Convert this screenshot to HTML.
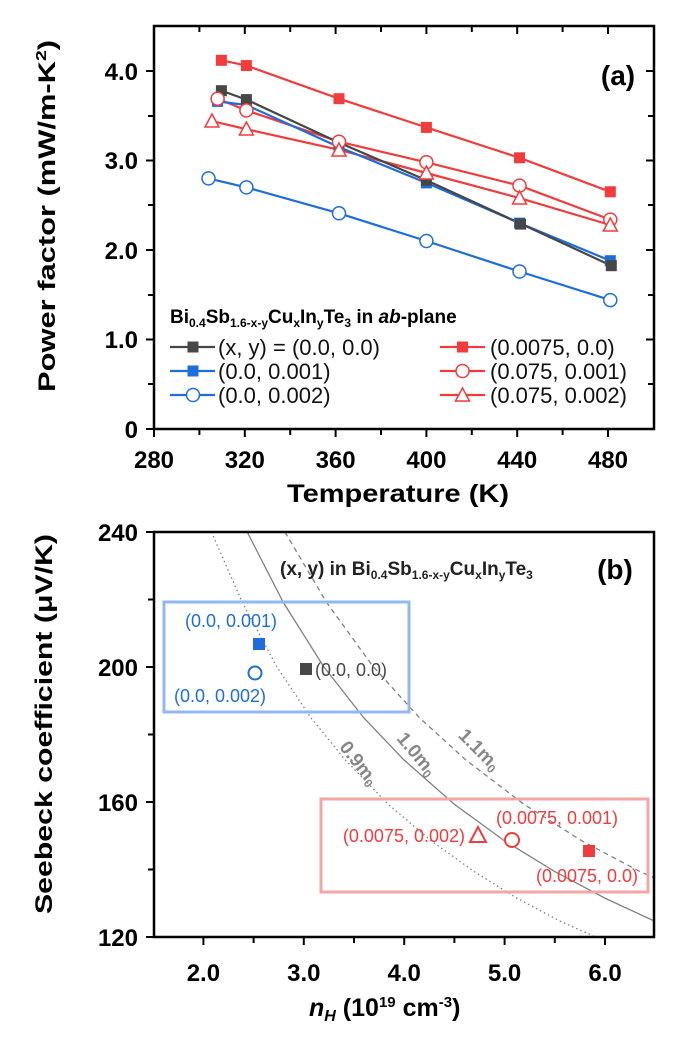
<!DOCTYPE html>
<html><head><meta charset="utf-8"><style>
body{margin:0;background:#fff}
svg{display:block;font-family:"Liberation Sans",sans-serif}
.tk{font-weight:bold;font-size:24px}
</style></head><body>
<svg width="686" height="1046" viewBox="0 0 686 1046" xmlns="http://www.w3.org/2000/svg">
<!-- ===== Panel (a) ===== -->
<g stroke="#000" stroke-width="2.5" fill="none">
<rect x="154" y="26" width="500" height="403"/>
</g>
<g stroke="#000" stroke-width="2">
<line x1="146" y1="429" x2="154" y2="429"/><line x1="146" y1="339.5" x2="154" y2="339.5"/><line x1="146" y1="250" x2="154" y2="250"/><line x1="146" y1="160.5" x2="154" y2="160.5"/><line x1="146" y1="71" x2="154" y2="71"/>
<line x1="148" y1="384" x2="154" y2="384"/><line x1="148" y1="295" x2="154" y2="295"/><line x1="148" y1="205" x2="154" y2="205"/><line x1="148" y1="116" x2="154" y2="116"/>
<line x1="646" y1="339.5" x2="654" y2="339.5"/><line x1="646" y1="250" x2="654" y2="250"/><line x1="646" y1="160.5" x2="654" y2="160.5"/><line x1="646" y1="71" x2="654" y2="71"/>
<line x1="648" y1="384" x2="654" y2="384"/><line x1="648" y1="295" x2="654" y2="295"/><line x1="648" y1="205" x2="654" y2="205"/><line x1="648" y1="116" x2="654" y2="116"/>
<line x1="154" y1="429" x2="154" y2="437"/><line x1="244.8" y1="429" x2="244.8" y2="437"/><line x1="335.6" y1="429" x2="335.6" y2="437"/><line x1="426.4" y1="429" x2="426.4" y2="437"/><line x1="517.2" y1="429" x2="517.2" y2="437"/><line x1="608" y1="429" x2="608" y2="437"/>
<line x1="199.4" y1="429" x2="199.4" y2="435"/><line x1="290.2" y1="429" x2="290.2" y2="435"/><line x1="381" y1="429" x2="381" y2="435"/><line x1="471.8" y1="429" x2="471.8" y2="435"/><line x1="562.6" y1="429" x2="562.6" y2="435"/>
<line x1="199.4" y1="26" x2="199.4" y2="32"/><line x1="244.8" y1="26" x2="244.8" y2="34"/><line x1="290.2" y1="26" x2="290.2" y2="32"/><line x1="335.6" y1="26" x2="335.6" y2="34"/><line x1="381" y1="26" x2="381" y2="32"/><line x1="426.4" y1="26" x2="426.4" y2="34"/><line x1="471.8" y1="26" x2="471.8" y2="32"/><line x1="517.2" y1="26" x2="517.2" y2="34"/><line x1="562.6" y1="26" x2="562.6" y2="32"/><line x1="608" y1="26" x2="608" y2="34"/>
</g>
<g class="tk" text-anchor="end">
<text x="138" y="438">0</text><text x="138" y="348">1.0</text><text x="138" y="259">2.0</text><text x="138" y="169">3.0</text><text x="138" y="80">4.0</text>
</g>
<g class="tk" text-anchor="middle">
<text x="154" y="468">280</text><text x="244.8" y="468">320</text><text x="335.6" y="468">360</text><text x="426.4" y="468">400</text><text x="517.2" y="468">440</text><text x="608" y="468">480</text>
</g>
<text x="398" y="502" text-anchor="middle" font-weight="bold" font-size="25" textLength="222" lengthAdjust="spacingAndGlyphs">Temperature (K)</text>
<text transform="translate(55,216) rotate(-90)" text-anchor="middle" font-weight="bold" font-size="24" textLength="352" lengthAdjust="spacingAndGlyphs">Power factor  (mW/m-K<tspan dy="-9" font-size="15">2</tspan><tspan dy="9">)</tspan></text>
<text x="618" y="85" text-anchor="middle" font-weight="bold" font-size="28">(a)</text>

<g fill="none" stroke-width="2.2">
<polyline stroke="#1d6ddc" points="208.5,178.4 246.4,187.4 339,213.3 426.4,241 519.5,271.5 610.3,300.1"/>
<polyline stroke="#f03c3c" points="212,121.1 246.4,129.2 339,149.8 426.4,173 519.5,198.1 610.3,225"/>
<polyline stroke="#f03c3c" points="217.6,98.7 246.4,110.4 339,141.7 426.4,162.3 519.5,185.6 610.3,219.6"/>
<polyline stroke="#1d6ddc" points="217.6,101.4 246.4,105 339,147.1 426.4,182.9 519.5,223.1 610.3,260.7"/>
<polyline stroke="#474747" points="221.4,90.7 246.4,99.6 339,142.6 426.4,180.2 519.5,223.1 610.3,265.2"/>
<polyline stroke="#f03c3c" points="221.4,60.3 246.4,65.6 339,98.7 426.4,127.4 519.5,157.8 610.3,191.8"/>
</g>
<g fill="#fff" stroke="#1d6ddc" stroke-width="1.5">
<circle cx="208.5" cy="178.4" r="6.5"/><circle cx="246.4" cy="187.4" r="6.5"/><circle cx="339" cy="213.3" r="6.5"/><circle cx="426.4" cy="241" r="6.5"/><circle cx="519.5" cy="271.5" r="6.5"/><circle cx="610.3" cy="300.1" r="6.5"/>
</g>
<g fill="#1d6ddc">
<rect x="212.1" y="95.9" width="11" height="11"/><rect x="240.9" y="99.5" width="11" height="11"/><rect x="333.5" y="141.6" width="11" height="11"/><rect x="420.9" y="177.4" width="11" height="11"/><rect x="514" y="217.6" width="11" height="11"/><rect x="604.8" y="255.2" width="11" height="11"/>
</g>
<g fill="#474747">
<rect x="215.9" y="85.2" width="11" height="11"/><rect x="240.9" y="94.1" width="11" height="11"/><rect x="333.5" y="137.1" width="11" height="11"/><rect x="420.9" y="174.7" width="11" height="11"/><rect x="515" y="218.6" width="11" height="11"/><rect x="605.8" y="260.2" width="11" height="11"/>
</g>
<g fill="#fff" stroke="#f03c3c" stroke-width="1.5">
<circle cx="217.6" cy="98.7" r="6.5"/><circle cx="246.4" cy="110.4" r="6.5"/><circle cx="339" cy="141.7" r="6.5"/><circle cx="426.4" cy="162.3" r="6.5"/><circle cx="519.5" cy="185.6" r="6.5"/><circle cx="610.3" cy="219.6" r="6.5"/>
<polygon points="212,114 219,127 205,127"/><polygon points="246.4,122 253.4,135 239.4,135"/><polygon points="339,143 346,156 332,156"/><polygon points="426.4,166 433.4,179 419.4,179"/><polygon points="519.5,191 526.5,204 512.5,204"/><polygon points="610.3,218 617.3,231 603.3,231"/>
</g>
<g fill="#f03c3c">
<rect x="215.9" y="54.8" width="11" height="11"/><rect x="240.9" y="60.1" width="11" height="11"/><rect x="333.5" y="93.2" width="11" height="11"/><rect x="420.9" y="121.9" width="11" height="11"/><rect x="514" y="152.3" width="11" height="11"/><rect x="604.8" y="186.3" width="11" height="11"/>
</g>
<text x="170" y="323" font-weight="bold" font-size="19">Bi<tspan font-size="12" dy="4">0.4</tspan><tspan dy="-4">Sb</tspan><tspan font-size="12" dy="4">1.6-x-y</tspan><tspan dy="-4">Cu</tspan><tspan font-size="12" dy="4">x</tspan><tspan dy="-4">In</tspan><tspan font-size="12" dy="4">y</tspan><tspan dy="-4">Te</tspan><tspan font-size="12" dy="4">3</tspan><tspan dy="-4"> in </tspan><tspan font-style="italic">ab</tspan>-plane</text>
<g stroke-width="2.2">
<line x1="170" y1="347" x2="215" y2="347" stroke="#474747"/><rect x="187.5" y="341.5" width="11" height="11" fill="#474747"/>
<line x1="170" y1="371" x2="215" y2="371" stroke="#1d6ddc"/><rect x="187.5" y="365.5" width="11" height="11" fill="#1d6ddc"/>
<line x1="170" y1="395" x2="215" y2="395" stroke="#1d6ddc"/><circle cx="193" cy="395" r="6.5" fill="#fff" stroke="#1d6ddc" stroke-width="1.5"/>
<line x1="440" y1="347" x2="485" y2="347" stroke="#f03c3c"/><rect x="457" y="341.5" width="11" height="11" fill="#f03c3c"/>
<line x1="440" y1="371" x2="485" y2="371" stroke="#f03c3c"/><circle cx="462.5" cy="371" r="6.5" fill="#fff" stroke="#f03c3c" stroke-width="1.5"/>
<line x1="440" y1="395" x2="485" y2="395" stroke="#f03c3c"/><polygon points="462.5,388 469.5,401 455.5,401" fill="#fff" stroke="#f03c3c" stroke-width="1.5"/>
</g>
<g font-size="22" fill="#111">
<text x="218" y="355">(x, y) = (0.0, 0.0)</text>
<text x="218" y="379">(0.0, 0.001)</text>
<text x="218" y="403">(0.0, 0.002)</text>
<text x="490" y="355">(0.0075, 0.0)</text>
<text x="490" y="379">(0.075, 0.001)</text>
<text x="490" y="403">(0.075, 0.002)</text>
</g>

<!-- ===== Panel (b) ===== -->
<g fill="none" stroke="#808080" stroke-width="1.3">
<polyline points="247.2,532 283.3,602.4 323.5,666.4 363.6,717.6 403.8,759.8 454,804 504.2,840.6 554.4,871.3 604.6,898 654,920.9"/>
<polyline stroke-dasharray="1.5,3" points="211.4,532 242.3,602.4 276.6,666.4 310.8,717.6 345.2,759.8 388,804 430.9,840.6 473.8,871.3 516.6,898 559.5,920.9 595.6,937"/>
<polyline stroke-dasharray="5,4" points="284.9,532 326.6,602.4 373,666.4 419.3,717.6 465.6,759.8 523.6,804 581.5,840.6 639.4,871.3 654,877.6"/>
</g>
<rect x="164" y="602" width="245" height="110" fill="none" stroke="#93b8ef" stroke-width="3"/>
<rect x="321" y="799" width="327" height="93" fill="none" stroke="#f5a5a5" stroke-width="3"/>
<g stroke="#000" stroke-width="2.5" fill="none"><rect x="154" y="532" width="500" height="405"/></g>
<g stroke="#000" stroke-width="2">
<line x1="146" y1="937" x2="154" y2="937"/><line x1="146" y1="802" x2="154" y2="802"/><line x1="146" y1="667" x2="154" y2="667"/><line x1="146" y1="532" x2="154" y2="532"/>
<line x1="148" y1="869.5" x2="154" y2="869.5"/><line x1="148" y1="734.5" x2="154" y2="734.5"/><line x1="148" y1="599.5" x2="154" y2="599.5"/>
<line x1="203.4" y1="937" x2="203.4" y2="945"/><line x1="303.8" y1="937" x2="303.8" y2="945"/><line x1="404.2" y1="937" x2="404.2" y2="945"/><line x1="504.6" y1="937" x2="504.6" y2="945"/><line x1="605" y1="937" x2="605" y2="945"/>
<line x1="253.6" y1="937" x2="253.6" y2="943"/><line x1="354" y1="937" x2="354" y2="943"/><line x1="454.4" y1="937" x2="454.4" y2="943"/><line x1="554.8" y1="937" x2="554.8" y2="943"/>
</g>
<g class="tk" text-anchor="end">
<text x="138" y="946">120</text><text x="138" y="811">160</text><text x="138" y="676">200</text><text x="138" y="541">240</text>
</g>
<g class="tk" text-anchor="middle">
<text x="203.4" y="981">2.0</text><text x="303.8" y="981">3.0</text><text x="404.2" y="981">4.0</text><text x="504.6" y="981">5.0</text><text x="605" y="981">6.0</text>
</g>
<text x="309" y="1016" font-weight="bold" font-size="25"><tspan font-style="italic">n</tspan><tspan font-style="italic" font-size="16" dy="5">H</tspan><tspan dy="-5"> (10</tspan><tspan font-size="15" dy="-9">19</tspan><tspan dy="9"> cm</tspan><tspan font-size="15" dy="-9">-3</tspan><tspan dy="9">)</tspan></text>
<text transform="translate(52,724) rotate(-90)" text-anchor="middle" font-weight="bold" font-size="24" textLength="380" lengthAdjust="spacingAndGlyphs">Seebeck coefficient  (μV/K)</text>
<text x="280" y="575" font-weight="bold" font-size="19" fill="#222">(x, y)  in  Bi<tspan font-size="12" dy="4">0.4</tspan><tspan dy="-4">Sb</tspan><tspan font-size="12" dy="4">1.6-x-y</tspan><tspan dy="-4">Cu</tspan><tspan font-size="12" dy="4">x</tspan><tspan dy="-4">In</tspan><tspan font-size="12" dy="4">y</tspan><tspan dy="-4">Te</tspan><tspan font-size="12" dy="4">3</tspan></text>
<text x="615" y="579" text-anchor="middle" font-weight="bold" font-size="28">(b)</text>
<g font-size="19" font-weight="bold" fill="#888" text-anchor="middle">
<text transform="translate(354,767) rotate(52)">0.9m<tspan font-size="12" dy="3">0</tspan></text>
<text transform="translate(412,758) rotate(50)">1.0m<tspan font-size="12" dy="3">0</tspan></text>
<text transform="translate(475,754) rotate(45)">1.1m<tspan font-size="12" dy="3">0</tspan></text>
</g>
<rect x="253" y="638" width="12" height="12" fill="#1d6ddc"/>
<circle cx="255" cy="673" r="6.5" fill="#fff" stroke="#1d6ddc" stroke-width="2"/>
<rect x="300" y="663" width="12" height="12" fill="#474747"/>
<polygon points="478,827 486,842 470,842" fill="#fff" stroke="#f03c3c" stroke-width="2"/>
<circle cx="512" cy="840" r="7" fill="#fff" stroke="#f03c3c" stroke-width="2"/>
<rect x="583" y="845" width="12" height="12" fill="#f03c3c"/>
<g font-size="18">
<text x="231" y="627" text-anchor="middle" fill="#1d6ddc">(0.0, 0.001)</text>
<text x="220" y="702" text-anchor="middle" fill="#1d6ddc">(0.0, 0.002)</text>
<text x="315" y="676" fill="#474747">(0.0, 0.0)</text>
<text x="557" y="824" text-anchor="middle" fill="#f03c3c">(0.0075, 0.001)</text>
<text x="465" y="842" text-anchor="end" fill="#f03c3c">(0.0075, 0.002)</text>
<text x="587" y="882" text-anchor="middle" fill="#f03c3c">(0.0075, 0.0)</text>
</g>
</svg>
</body></html>
